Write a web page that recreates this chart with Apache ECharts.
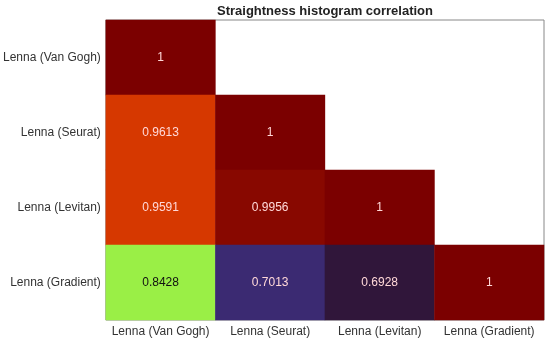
<!DOCTYPE html>
<html><head><meta charset="utf-8">
<script src="https://cdn.jsdelivr.net/npm/echarts@6/dist/echarts.min.js"></script>
<style>html,body{margin:0;padding:0;background:#fff}#c{width:550px;height:343px}</style>
</head><body><div id="c"></div>
<script>
const xCategories = ['Lenna (Van Gogh)', 'Lenna (Seurat)', 'Lenna (Levitan)', 'Lenna (Gradient)'];
const yCategories = ['Lenna (Gradient)', 'Lenna (Levitan)', 'Lenna (Seurat)', 'Lenna (Van Gogh)'];
// [xIndex, yIndex(from bottom), value]
const cellX = [0, 0, 1, 0, 1, 2, 0, 1, 2, 3];
const cellY = [3, 2, 2, 1, 1, 1, 0, 0, 0, 0];
const cellValues = [1, 0.9613, 1, 0.9591, 0.9956, 1, 0.8428, 0.7013, 0.6928, 1];

const data = cellValues.map((v, i) => [cellX[i], cellY[i], v]);
const chart = echarts.init(document.getElementById('c'), null, {renderer: 'canvas'});
const font = 'Liberation Sans, Arial, Helvetica, sans-serif';
chart.setOption({
  animation: false,
  title: {text: 'Straightness histogram correlation', left: 212, top: 0,
    textStyle: {fontFamily: font, fontSize: 13, fontWeight: 'bold', color: '#222'}},
  grid: {left: 105, right: 6, top: 20, bottom: 23, show: true, borderColor: '#888', borderWidth: 1, backgroundColor: 'transparent'},
  xAxis: {type: 'category', data: xCategories, axisLine: {show: false}, axisTick: {show: false},
    axisLabel: {interval: 0, fontFamily: font, fontSize: 12, color: '#333', margin: 6}, splitArea: {show: false}},
  yAxis: {type: 'category', data: yCategories, axisLine: {show: false}, axisTick: {show: false},
    axisLabel: {interval: 0, fontFamily: font, fontSize: 12, color: '#333', margin: 5}, splitArea: {show: false}},
  visualMap: {type: 'piecewise', show: false, dimension: 2, pieces: [
    {lt: 0.697, color: '#30163a'},
    {gte: 0.697, lt: 0.75, color: '#3b2a72'},
    {gte: 0.75, lt: 0.9, color: '#9aef46'},
    {gte: 0.9, lt: 0.99, color: '#d63800'},
    {gte: 0.99, lt: 0.999, color: '#880800'},
    {gte: 0.999, color: '#7b0000'}
  ]},
  series: [{
    type: 'heatmap', data: data,
    label: {show: true, fontFamily: font, fontSize: 12,
      color: '#ffd8d8',
      formatter: p => String(p.value[2])},
    itemStyle: {borderWidth: 0},
    emphasis: {disabled: true}
  }]
});
chart.setOption({series: [{data: data.map(d => ({value: d, label: d[2] > 0.8 && d[2] < 0.9 ? {color: '#111'} : undefined}))}]});
</script></body></html>
